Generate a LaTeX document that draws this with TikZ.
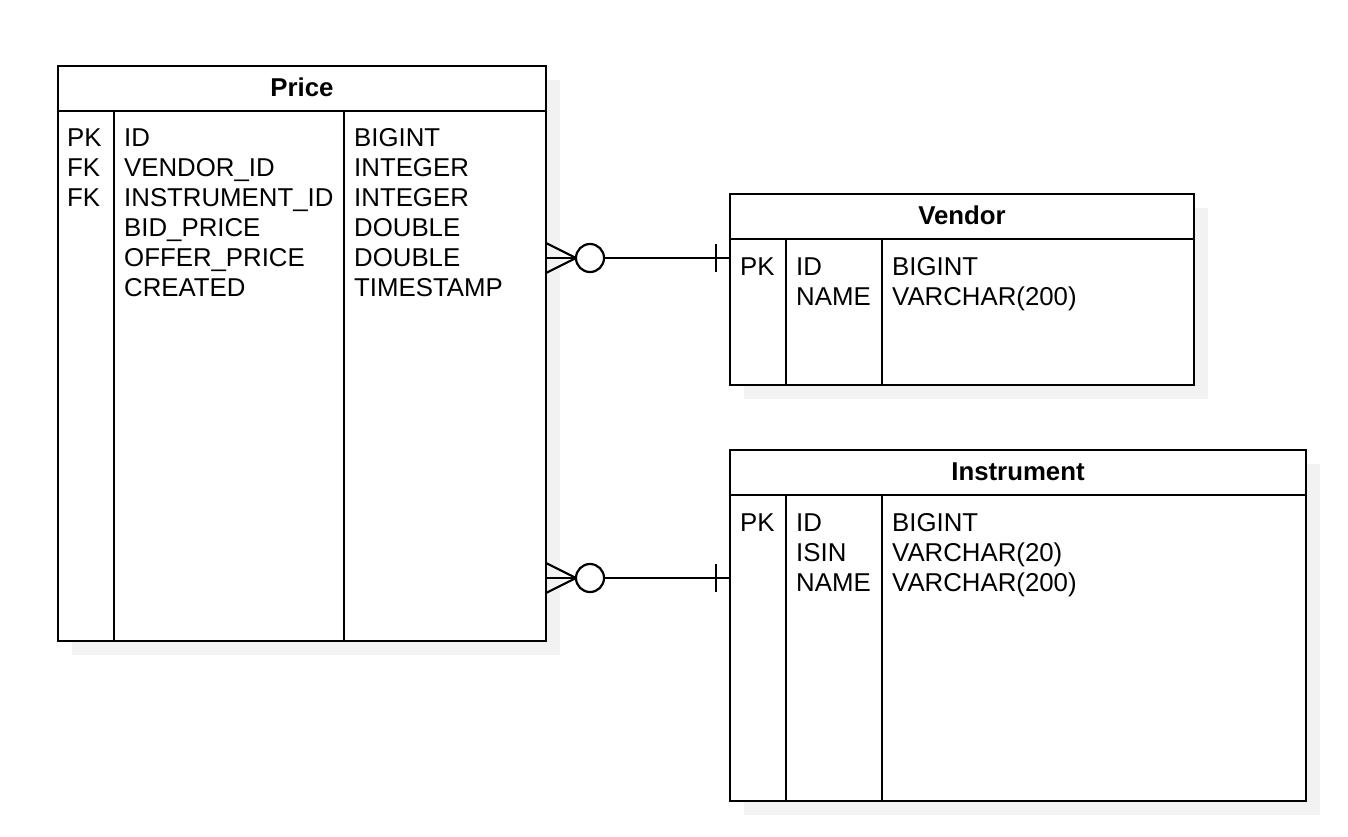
\documentclass[tikz,border=0pt]{standalone}
\usepackage{fontspec}
\setmainfont{Liberation Sans}
\begin{document}
\begin{tikzpicture}[x=1pt,y=-1pt,
  tbl/.style={draw=black, line width=2.2pt, fill=white, rectangle, inner sep=0pt},
  txt/.style={anchor=base west, inner sep=0pt, font=\fontsize{25.8}{26}\selectfont},
  ttl/.style={anchor=base, inner sep=0pt, font=\fontsize{25.8}{26}\selectfont\bfseries},
  ln/.style={line width=2.2pt, draw=black},
]
\definecolor{shadowgray}{RGB}{242,242,242}
\useasboundingbox (0,0) rectangle (1348,836);

% shadows
\fill[shadowgray] (72,80) rectangle (560,655);
\fill[shadowgray] (744,208) rectangle (1208,399);
\fill[shadowgray] (744,464) rectangle (1320,815);

% tables
\node[tbl, minimum width=488pt, minimum height=575pt] (price) at (302,353.5) {};
\node[tbl, minimum width=464pt, minimum height=191pt] (vendor) at (962,289.5) {};
\node[tbl, minimum width=576pt, minimum height=351pt] (instrument) at (1018,625.5) {};

% Price structure
\draw[ln] (58,111) -- (546,111);
\draw[ln] (114,111) -- (114,641);
\draw[ln] (344,111) -- (344,641);
\node[ttl] (priceT) at (302,96) {Price};
\node[txt] (p1k) at (67,146) {PK};
\node[txt] (p2k) at (67,176) {FK};
\node[txt] (p3k) at (67,206) {FK};
\node[txt] (p1n) at (124,146) {ID};
\node[txt] (p2n) at (124,176) {VENDOR\_ID};
\node[txt] (p3n) at (124,206) {INSTRUMENT\_ID};
\node[txt] (p4n) at (124,236) {BID\_PRICE};
\node[txt] (p5n) at (124,266) {OFFER\_PRICE};
\node[txt] (p6n) at (124,296) {CREATED};
\node[txt] (p1t) at (354,146) {BIGINT};
\node[txt] (p2t) at (354,176) {INTEGER};
\node[txt] (p3t) at (354,206) {INTEGER};
\node[txt] (p4t) at (354,236) {DOUBLE};
\node[txt] (p5t) at (354,266) {DOUBLE};
\node[txt] (p6t) at (354,296) {TIMESTAMP};

% Vendor structure
\draw[ln] (730,239) -- (1194,239);
\draw[ln] (786,239) -- (786,385);
\draw[ln] (882,239) -- (882,385);
\node[ttl] (vendorT) at (962,224) {Vendor};
\node[txt] (v1k) at (740,275) {PK};
\node[txt] (v1n) at (796,275) {ID};
\node[txt] (v2n) at (796,305) {NAME};
\node[txt] (v1t) at (892,275) {BIGINT};
\node[txt] (v2t) at (892,305) {VARCHAR(200)};

% Instrument structure
\draw[ln] (730,495) -- (1306,495);
\draw[ln] (786,495) -- (786,801);
\draw[ln] (882,495) -- (882,801);
\node[ttl] (instrT) at (1018,480) {Instrument};
\node[txt] (i1k) at (740,531) {PK};
\node[txt] (i1n) at (796,531) {ID};
\node[txt] (i2n) at (796,561) {ISIN};
\node[txt] (i3n) at (796,591) {NAME};
\node[txt] (i1t) at (892,531) {BIGINT};
\node[txt] (i2t) at (892,561) {VARCHAR(20)};
\node[txt] (i3t) at (892,591) {VARCHAR(200)};

% connectors
\coordinate (c1a) at (546,258);
\coordinate (c1b) at (730,258);
\coordinate (c2a) at (546,578);
\coordinate (c2b) at (730,578);

\foreach \a/\b in {c1a/c1b, c2a/c2b}{
  \draw[ln] ([xshift=58pt]\a) -- (\b);
  \draw[ln] ([yshift=-15pt]\a) -- ([xshift=30pt]\a) -- ([yshift=15pt]\a);
  \draw[ln] (\a) -- ([xshift=30pt]\a);
  \draw[ln, fill=white] ([xshift=44pt]\a) circle[radius=14pt];
  \draw[ln] ([xshift=-14pt,yshift=-14pt]\b) -- ([xshift=-14pt,yshift=14pt]\b);
}
\end{tikzpicture}
\end{document}
